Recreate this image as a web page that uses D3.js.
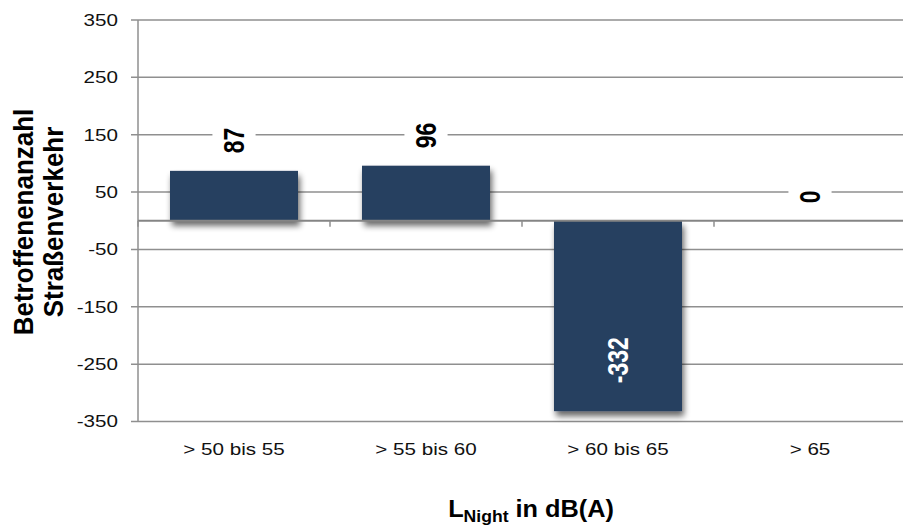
<!DOCTYPE html>
<html><head><meta charset="utf-8">
<script src="https://cdn.jsdelivr.net/npm/d3@7"></script>
<style>html,body{margin:0;padding:0;background:#fff;}svg{display:block;font-family:"Liberation Sans",Arial,sans-serif;}</style>
</head><body>
<svg id="chart" width="903" height="527"></svg>
<script>
const categories = ["> 50 bis 55", "> 55 bis 60", "> 60 bis 65", "> 65"];
const values = [87, 96, -332, 0];
const yTicks = [350, 250, 150, 50, -50, -150, -250, -350];
const yTitleLines = ["Betroffenenanzahl", "Straßenverkehr"];
const xTitleMain = "L", xTitleSub = "Night", xTitleRest = " in dB(A)";

const svg = d3.select("#chart");
const SX = 1.25;
const x0 = 138, x1 = 906, yTop = 20, yBot = 421.5;
const x = d3.scaleBand().domain(categories).range([x0, x1]).paddingInner(1/3).paddingOuter(1/6);
const y = d3.scaleLinear().domain([-350, 350]).range([yBot, yTop]);

const defs = svg.append("defs");
const f = defs.append("filter").attr("id", "sh").attr("x", "-20%").attr("y", "-20%").attr("width", "150%").attr("height", "150%");
f.append("feGaussianBlur").attr("in", "SourceAlpha").attr("stdDeviation", 3).attr("result", "b");
f.append("feOffset").attr("in", "b").attr("dx", 2).attr("dy", 5).attr("result", "o");
f.append("feComponentTransfer").attr("in", "o").attr("result", "o2").append("feFuncA").attr("type", "linear").attr("slope", 0.6);
const m = f.append("feMerge"); m.append("feMergeNode").attr("in", "o2"); m.append("feMergeNode").attr("in", "SourceGraphic");

// gridlines
svg.append("g").selectAll("line").data(yTicks).join("line")
  .attr("x1", x0 - 7).attr("x2", x1).attr("y1", d => y(d)).attr("y2", d => y(d))
  .attr("stroke", "#8f8f8f").attr("stroke-width", 1.5);
// left axis
svg.append("line").attr("x1", x0).attr("x2", x0).attr("y1", yTop).attr("y2", yBot).attr("stroke", "#8f8f8f").attr("stroke-width", 1.5);
// tick labels
svg.append("g").selectAll("text").data(yTicks).join("text")
  .attr("transform", d => `translate(118,${y(d) + 5.8}) scale(${SX},1)`)
  .attr("text-anchor", "end").attr("font-size", 16.5).attr("fill", "#111").text(d => d);

// bars
svg.append("g").selectAll("rect").data(values).join("rect")
  .attr("x", (d, i) => x(categories[i])).attr("width", x.bandwidth())
  .attr("y", d => y(Math.max(0, d))).attr("height", d => Math.abs(y(d) - y(0)))
  .attr("fill", "#264060").attr("filter", "url(#sh)");

// zero axis
svg.append("line").attr("x1", x0).attr("x2", x1).attr("y1", y(0)).attr("y2", y(0)).attr("stroke", "#858585").attr("stroke-width", 2);
const step = x.step();
svg.append("g").selectAll("line").data(d3.range(categories.length + 1)).join("line")
  .attr("x1", i => x0 + i * step).attr("x2", i => x0 + i * step)
  .attr("y1", y(0)).attr("y2", y(0) + 6).attr("stroke", "#8f8f8f").attr("stroke-width", 1.5);

// category labels
svg.append("g").selectAll("text").data(categories).join("text")
  .attr("transform", d => `translate(${x(d) + x.bandwidth() / 2},455) scale(${SX},1)`)
  .attr("text-anchor", "middle").attr("font-size", 16.5).attr("fill", "#111").text(d => d);

// value labels
const lg = svg.append("g");
values.forEach((v, i) => {
  const cx = x(categories[i]) + x.bandwidth() / 2;
  const inside = v < 0;
  const yy = inside ? y(v) - 28 : y(Math.max(0, v)) - 17.5;
  const g = lg.append("g").attr("transform", `translate(${cx},${yy}) scale(${SX},1) rotate(-90)`);
  const t = g.append("text").attr("x", 0).attr("y", 0).attr("dominant-baseline", "central")
    .attr("font-size", 23).attr("font-weight", "bold").attr("fill", inside ? "#fff" : "#000").text(v);
  if (!inside) {
    const bb = t.node().getBBox();
    g.insert("rect", "text").attr("x", bb.x - 6).attr("y", bb.y - 4).attr("width", bb.width + 12).attr("height", bb.height + 8).attr("fill", "#fff");
  }
});

// y title
yTitleLines.forEach((s, i) => {
  svg.append("text").attr("transform", `translate(${24 + i * 30},222) scale(1.05,1) rotate(-90)`)
    .attr("text-anchor", "middle").attr("dominant-baseline", "central")
    .attr("font-size", 26).attr("font-weight", "bold").attr("fill", "#000").text(s);
});

// x title
const xt = svg.append("text").attr("transform", `translate(531,517) scale(1.1,1)`).attr("text-anchor", "middle")
  .attr("font-size", 23).attr("font-weight", "bold").attr("fill", "#000");
xt.append("tspan").text(xTitleMain);
xt.append("tspan").attr("font-size", 16).attr("dy", 5).text(xTitleSub);
xt.append("tspan").attr("dy", -5).text(xTitleRest);
</script>
</body></html>
